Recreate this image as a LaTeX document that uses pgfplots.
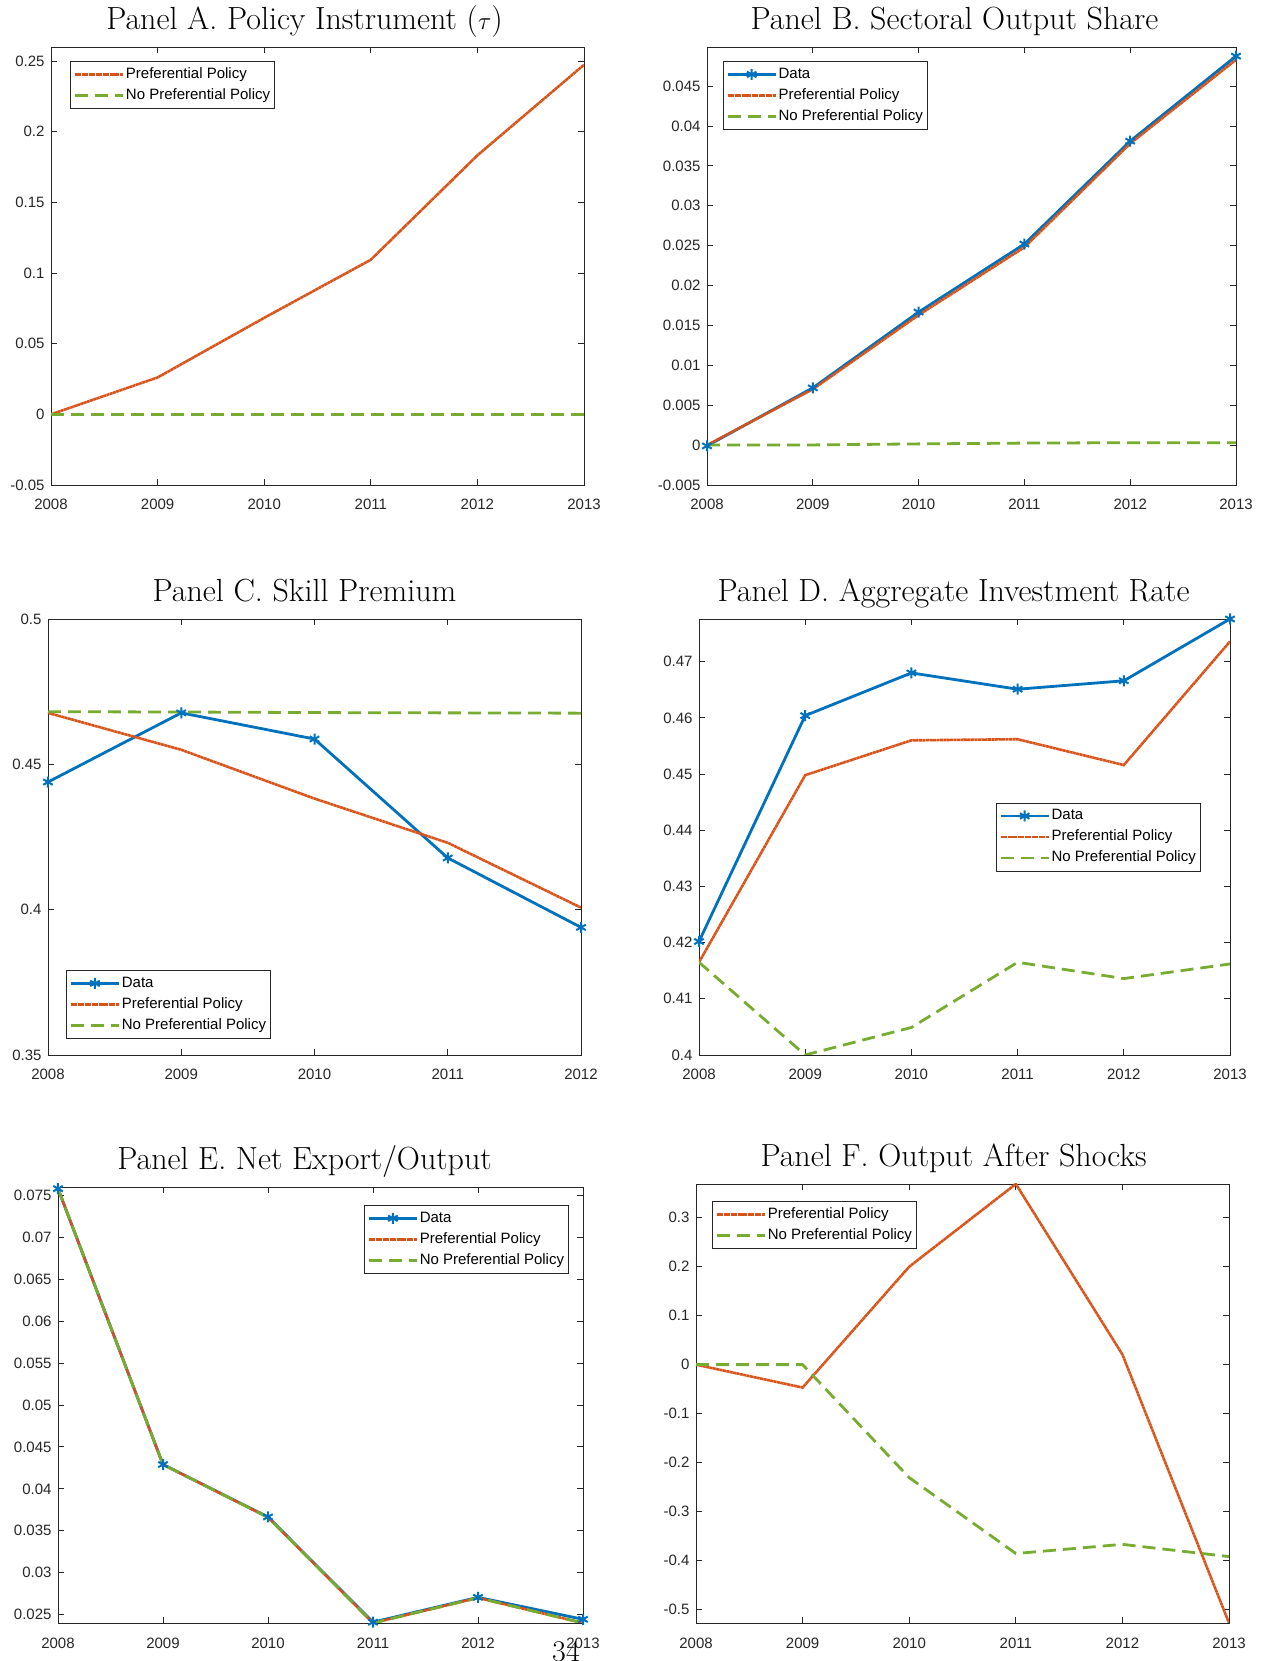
\documentclass[border=0pt]{standalone}
\usepackage{fontspec}
\usepackage{pgfplots}
\pgfplotsset{compat=1.18}
\newfontfamily\arial{Liberation Sans}

\definecolor{mblue}{RGB}{0,114,189}
\definecolor{morange}{RGB}{217,83,25}
\definecolor{mgreen}{RGB}{119,172,48}
\definecolor{axgray}{RGB}{38,38,38}

\pgfplotsset{
  panel/.style={
    scale only axis,
    anchor=south west,
    scaled y ticks=false,
    xmin=2008, xmax=2013,
    xtick={2008,2009,2010,2011,2012,2013},
    xticklabels={2008,2009,2010,2011,2012,2013},
    axis line style={axgray, line width=0.9pt},
    tick style={axgray, line width=0.9pt},
    major tick length=6pt,
    tick align=inside,
    ticklabel style={font=\arial\fontsize{15}{15}\selectfont, text=axgray},
    xticklabel style={yshift=-11pt},
    yticklabel style={xshift=-3pt},
    title style={font=\fontsize{32}{34}\selectfont, anchor=base, at={(0.5,1)}, yshift=11pt},
    legend style={font=\arial\fontsize{15}{17}\selectfont, draw=axgray, line width=0.9pt,
      cells={anchor=west}, anchor=north west, inner xsep=3pt, inner ysep=4.5pt, row sep=4pt,
      nodes={inner sep=1.5pt, text height=11pt, text depth=3pt}},
    legend image code/.code={\draw[mark repeat=2, mark phase=2, #1]
      plot coordinates {(0pt,0pt) (24pt,0pt) (48pt,0pt)};},
  },
  dataline/.style={mblue, line width=2.8pt, mark=asterisk, mark size=5.5pt,
    mark options={solid, line width=2pt}},
  prefline/.style={morange, line width=2.6pt, dash pattern=on 3pt off 0.45pt, no markers},
  noprefline/.style={mgreen, line width=2.8pt, dash pattern=on 13pt off 7pt, no markers},
}

\begin{document}
\begin{tikzpicture}
\useasboundingbox (0,0) rectangle (1269pt,1661pt);

% Panel A
\begin{axis}[panel, at={(51pt,1176pt)}, width=533pt, height=438pt,
  title={Panel A. Policy Instrument ($\tau$)}, title style={xshift=-13pt},
  ymin=-0.05, ymax=0.26,
  ytick={-0.05,0,0.05,0.1,0.15,0.2,0.25},
  yticklabels={-0.05,0,0.05,0.1,0.15,0.2,0.25},
  legend style={at={(0.036,0.968)}}]
\addplot[prefline] coordinates {(2008,0) (2009,0.0261) (2010,0.0683) (2011,0.1094) (2012,0.1833) (2013,0.2474)};
\addplot[noprefline] coordinates {(2008,0) (2009,0) (2010,0) (2011,0) (2012,0) (2013,0)};
\legend{Preferential Policy, No Preferential Policy}
\end{axis}

% Panel B
\begin{axis}[panel, at={(707pt,1176pt)}, width=529pt, height=438pt,
  title={Panel B. Sectoral Output Share}, title style={xshift=-17pt},
  ymin=-0.005, ymax=0.0499,
  ytick={-0.005,0,0.005,0.01,0.015,0.02,0.025,0.03,0.035,0.04,0.045},
  yticklabels={-0.005,0,0.005,0.01,0.015,0.02,0.025,0.03,0.035,0.04,0.045},
  legend style={at={(0.030,0.968)}}]
\addplot[dataline] coordinates {(2008,-0.0001) (2009,0.00717) (2010,0.01667) (2011,0.0252) (2012,0.0381) (2013,0.04875)};
\addplot[prefline] coordinates {(2008,0) (2009,0.0070) (2010,0.0163) (2011,0.0248) (2012,0.0378) (2013,0.0483)};
\addplot[noprefline] coordinates {(2008,0) (2009,0.00002) (2010,0.00015) (2011,0.00025) (2012,0.0003) (2013,0.0003)};
\legend{Data, Preferential Policy, No Preferential Policy}
\end{axis}

% Panel C
\begin{axis}[panel, at={(48pt,606pt)}, width=533pt, height=436pt,
  title={Panel C. Skill Premium}, title style={xshift=-10pt},
  xmax=2012, xtick={2008,2009,2010,2011,2012},
  xticklabels={2008,2009,2010,2011,2012},
  ymin=0.35, ymax=0.5,
  ytick={0.35,0.4,0.45,0.5},
  yticklabels={0.35,0.4,0.45,0.5},
  legend style={at={(0.034,0.195)}}]
\addplot[dataline] coordinates {(2008,0.4439) (2009,0.4677) (2010,0.4587) (2011,0.4178) (2012,0.3939)};
\addplot[prefline] coordinates {(2008,0.4677) (2009,0.4550) (2010,0.4382) (2011,0.4230) (2012,0.4007)};
\addplot[noprefline] coordinates {(2008,0.4681) (2009,0.4680) (2010,0.4678) (2011,0.4677) (2012,0.4676)};
\legend{Data, Preferential Policy, No Preferential Policy}
\end{axis}

% Panel D
\begin{axis}[panel, at={(699pt,606pt)}, width=531pt, height=436pt,
  title={Panel D. Aggregate Investment Rate}, title style={xshift=-11pt},
  ymin=0.4, ymax=0.4776,
  ytick={0.4,0.41,0.42,0.43,0.44,0.45,0.46,0.47},
  yticklabels={0.4,0.41,0.42,0.43,0.44,0.45,0.46,0.47},
  legend style={at={(0.559,0.579)}}]
\addplot[dataline] coordinates {(2008,0.4202) (2009,0.4604) (2010,0.4680) (2011,0.4651) (2012,0.4666) (2013,0.4776)};
\addplot[prefline] coordinates {(2008,0.4165) (2009,0.4498) (2010,0.4560) (2011,0.4562) (2012,0.4516) (2013,0.4736)};
\addplot[noprefline] coordinates {(2008,0.4165) (2009,0.4000) (2010,0.4049) (2011,0.4165) (2012,0.4136) (2013,0.4162)};
\legend{Data, Preferential Policy, No Preferential Policy}
\end{axis}

% Panel E
\begin{axis}[panel, at={(58pt,38pt)}, width=525pt, height=436pt,
  title={Panel E. Net Export/Output}, title style={xshift=-16pt},
  ymin=0.0240, ymax=0.0760,
  ytick={0.025,0.03,0.035,0.04,0.045,0.05,0.055,0.06,0.065,0.07,0.075},
  yticklabels={0.025,0.03,0.035,0.04,0.045,0.05,0.055,0.06,0.065,0.07,0.075},
  legend style={at={(0.583,0.959)}}]
\addplot[dataline] coordinates {(2008,0.0758) (2009,0.0429) (2010,0.03665) (2011,0.0241) (2012,0.02706) (2013,0.02444)};
\addplot[prefline] coordinates {(2008,0.0758) (2009,0.0429) (2010,0.0366) (2011,0.0240) (2012,0.0270) (2013,0.0240)};
\addplot[noprefline] coordinates {(2008,0.0758) (2009,0.0429) (2010,0.0366) (2011,0.0240) (2012,0.0270) (2013,0.0240)};
\legend{Data, Preferential Policy, No Preferential Policy}
\end{axis}

% Panel F
\begin{axis}[panel, at={(696pt,38pt)}, width=533pt, height=439pt,
  title={Panel F. Output After Shocks}, title style={xshift=-9pt},
  ymin=-0.5276, ymax=0.3689,
  ytick={-0.5,-0.4,-0.3,-0.2,-0.1,0,0.1,0.2,0.3},
  yticklabels={-0.5,-0.4,-0.3,-0.2,-0.1,0,0.1,0.2,0.3},
  legend style={at={(0.030,0.961)}}]
\addplot[prefline] coordinates {(2008,0) (2009,-0.0468) (2010,0.2) (2011,0.3689) (2012,0.0207) (2013,-0.5276)};
\addplot[noprefline] coordinates {(2008,0) (2009,0) (2010,-0.2307) (2011,-0.3857) (2012,-0.367) (2013,-0.392)};
\legend{Preferential Policy, No Preferential Policy}
\end{axis}

% page number
\node[font=\fontsize{30}{32}\selectfont, anchor=base] at (566pt,-0.5pt) {34};
\end{tikzpicture}
\end{document}
